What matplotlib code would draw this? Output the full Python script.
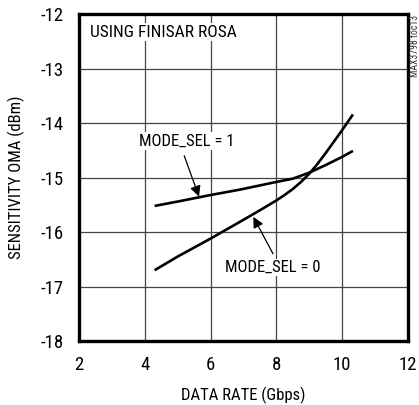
import matplotlib
matplotlib.use("Agg")
import matplotlib.pyplot as plt
from matplotlib import font_manager

rate1 = [4.3, 5, 6, 6.9, 8, 8.5, 9, 9.5, 10, 10.33]
sel1 = [-15.52, -15.44, -15.32, -15.22, -15.08, -15.02, -14.91, -14.77, -14.62, -14.51]
rate0 = [4.3, 5, 6, 6.9, 7.5, 8, 8.25, 8.5, 8.75, 9, 9.25, 9.5, 10, 10.33]
sel0 = [-16.7, -16.45, -16.12, -15.81, -15.6, -15.42, -15.32, -15.21, -15.08, -14.93,
        -14.75, -14.55, -14.13, -13.84]
xTicks = [2, 4, 6, 8, 10, 12]
yTicks = [-18, -17, -16, -15, -14, -13, -12]

names = set(f.name for f in font_manager.fontManager.ttflist)
family = "Roboto"
for cand in ["Roboto Condensed", "Liberation Sans Narrow", "Arial Narrow"]:
    if cand in names:
        family = cand
        break
plt.rcParams['font.family'] = [family, 'DejaVu Sans']
narrow = family != "Roboto"
fs = 12 if narrow else 10.5

fig = plt.figure(figsize=(4.19, 4.05), dpi=100)
ax = fig.add_axes([0.1885, 0.158, 0.785, 0.807])

ax.plot(rate1, sel1, color="black", lw=1.9, solid_capstyle="butt", solid_joinstyle="round")
ax.plot(rate0, sel0, color="black", lw=1.9, solid_capstyle="butt", solid_joinstyle="round")

ax.set_xlim(2, 12)
ax.set_ylim(-18, -12)
ax.set_xticks(xTicks)
ax.set_yticks(yTicks)
ax.set_xticklabels([str(v) for v in xTicks])
ax.set_yticklabels([str(v) for v in yTicks])
ax.tick_params(length=0, labelsize=fs + 1.5, pad=11)
ax.grid(True, color="#444444", lw=0.9)
ax.set_axisbelow(True)
for s in ax.spines.values():
    s.set_linewidth(2.4)

ax.set_xlabel("DATA RATE (Gbps)", fontsize=fs, labelpad=9)
ax.set_ylabel("SENSITIVITY OMA (dBm)", fontsize=fs, labelpad=11)

box = dict(facecolor="white", edgecolor="none", pad=1)
ax.text(2.33, -12.33, "USING FINISAR ROSA", fontsize=fs + 0.5, va="center", ha="left", bbox=box)

ax.text(5.27, -14.33, "MODE_SEL = 1", fontsize=fs, ha="center", va="center", bbox=box)
ax.text(7.88, -16.65, "MODE_SEL = 0", fontsize=fs, ha="center", va="center", bbox=box)

arrow = dict(arrowstyle="-|>", color="black", lw=0.9, mutation_scale=16, shrinkA=0, shrinkB=0)
ax.annotate("", xy=(5.65, -15.35), xytext=(5.2, -14.6), arrowprops=arrow)
ax.annotate("", xy=(7.3, -15.72), xytext=(7.9, -16.4), arrowprops=arrow)

fig.text(0.99, 0.963, "MAX3798 toc13", rotation=90, fontsize=7, ha="center", va="top",
         color="#333333")

fig.savefig("out.png", dpi=100)
